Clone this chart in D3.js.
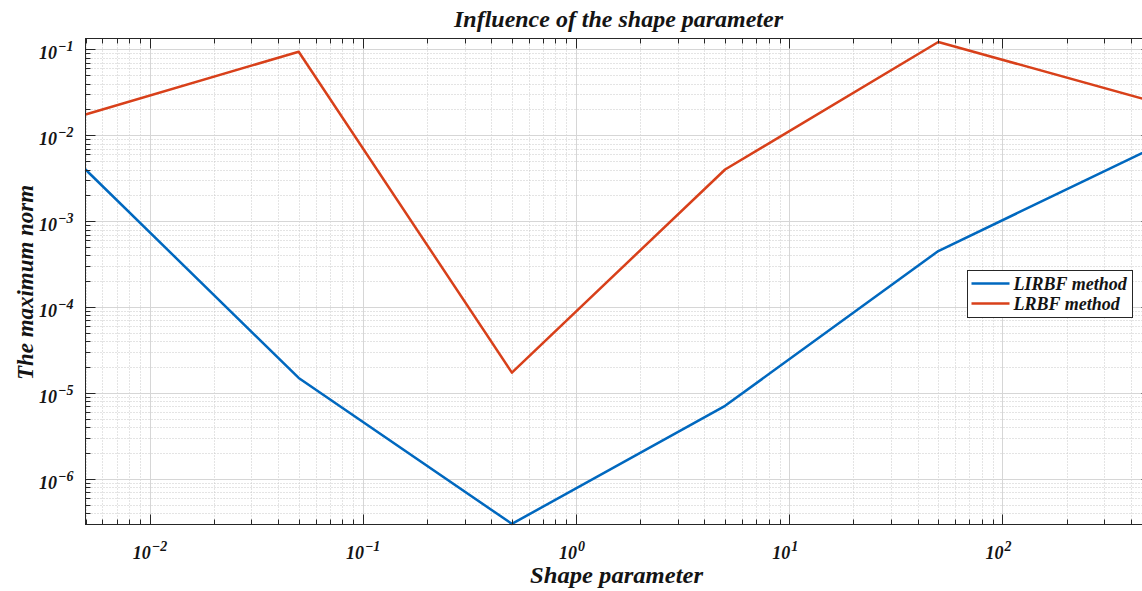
<!DOCTYPE html>
<html><head><meta charset="utf-8">
<script src="https://cdn.jsdelivr.net/npm/d3@7"></script>
<style>body{margin:0;background:#fff;overflow:hidden} svg{display:block}</style>
</head><body>
<svg id="chart" width="1142" height="591"></svg>
<script>
// Shape parameter values and maximum-norm errors for both methods
const shapeParams = [0.005, 0.05, 0.5, 5, 50, 500];
const lirbfError  = [4.0e-3, 1.5e-5, 3.0e-7, 7.1e-6, 4.5e-4, 7.0e-3];
const lrbfError   = [1.75e-2, 9.4e-2, 1.73e-5, 4.0e-3, 1.22e-1, 2.5e-2];
const seriesNames  = ["LIRBF method", "LRBF method"];
const seriesColors = ["#0068BF", "#D8401A"];
const xTickExponents = [-2, -1, 0, 1, 2];
const yTickExponents = [-6, -5, -4, -3, -2, -1];
const xLimits = [0.005, 500];
const yLimits = [2.95e-7, 0.134];
const titleText = "Influence of the shape parameter";
const xLabelText = "Shape parameter";
const yLabelText = "The maximum norm";

const FONT = "'Liberation Serif', serif";
const plot = {left: 85.5, right: 1151.5, top: 38.5, bottom: 524.5};

const svg = d3.select("#chart");
const x = d3.scaleLog().domain(xLimits).range([plot.left, plot.right]);
const y = d3.scaleLog().domain(yLimits).range([plot.bottom, plot.top]);

// minor tick values k*10^n within limits
function minorValues(lim) {
  const out = [];
  for (let e = Math.floor(Math.log10(lim[0])); e <= Math.ceil(Math.log10(lim[1])); e++) {
    for (let k = 2; k <= 9; k++) {
      const v = k * Math.pow(10, e);
      if (v >= lim[0] * 0.9999 && v <= lim[1] * 1.0001) out.push(v);
    }
  }
  return out;
}
const xMajor = xTickExponents.map(e => Math.pow(10, e));
const yMajor = yTickExponents.map(e => Math.pow(10, e));
const xMinor = minorValues(xLimits);
const yMinor = minorValues(yLimits);

const g = svg.append("g");

// grid: minor dotted, major solid
const grid = g.append("g");
grid.selectAll(".xmin").data(xMinor).join("line")
  .attr("x1", d => Math.round(x(d)) + 0.5).attr("x2", d => Math.round(x(d)) + 0.5)
  .attr("y1", plot.top).attr("y2", plot.bottom)
  .attr("stroke", "#c8c8c8").attr("stroke-width", 1).attr("stroke-dasharray", "1,2");
grid.selectAll(".ymin").data(yMinor).join("line")
  .attr("y1", d => Math.round(y(d)) + 0.5).attr("y2", d => Math.round(y(d)) + 0.5)
  .attr("x1", plot.left).attr("x2", plot.right)
  .attr("stroke", "#c8c8c8").attr("stroke-width", 1).attr("stroke-dasharray", "1,2");
grid.selectAll(".xmaj").data(xMajor).join("line")
  .attr("x1", d => Math.round(x(d)) + 0.5).attr("x2", d => Math.round(x(d)) + 0.5)
  .attr("y1", plot.top).attr("y2", plot.bottom)
  .attr("stroke", "#d6d6d6").attr("stroke-width", 1);
grid.selectAll(".ymaj").data(yMajor).join("line")
  .attr("y1", d => Math.round(y(d)) + 0.5).attr("y2", d => Math.round(y(d)) + 0.5)
  .attr("x1", plot.left).attr("x2", plot.right)
  .attr("stroke", "#d6d6d6").attr("stroke-width", 1);

// series lines
const line = d3.line().x(d => x(d[0])).y(d => y(d[1]));
const series = [lirbfError, lrbfError];
svg.append("clipPath").attr("id", "plotclip").append("rect")
  .attr("x", plot.left - 2).attr("y", plot.top - 2)
  .attr("width", plot.right - plot.left + 4).attr("height", plot.bottom - plot.top + 4);
g.append("g").attr("clip-path", "url(#plotclip)")
  .selectAll("path").data(series).join("path")
  .attr("d", s => line(shapeParams.map((p, i) => [p, s[i]])))
  .attr("fill", "none")
  .attr("stroke", (s, i) => seriesColors[i])
  .attr("stroke-width", 2.5)
  .attr("stroke-linejoin", "round");

// box with inward ticks on all four sides
const axisColor = "#262626";
const box = g.append("g").attr("stroke", axisColor).attr("stroke-width", 1);
box.append("rect").attr("x", plot.left).attr("y", plot.top)
  .attr("width", plot.right - plot.left).attr("height", plot.bottom - plot.top)
  .attr("fill", "none");
const MAJ = 10, MIN = 5;
function xTicks(vals, len) {
  vals.forEach(v => {
    const px = Math.round(x(v)) + 0.5;
    box.append("line").attr("x1", px).attr("x2", px).attr("y1", plot.bottom).attr("y2", plot.bottom - len);
    box.append("line").attr("x1", px).attr("x2", px).attr("y1", plot.top).attr("y2", plot.top + len);
  });
}
function yTicks(vals, len) {
  vals.forEach(v => {
    const py = Math.round(y(v)) + 0.5;
    box.append("line").attr("y1", py).attr("y2", py).attr("x1", plot.left).attr("x2", plot.left + len);
    box.append("line").attr("y1", py).attr("y2", py).attr("x1", plot.right).attr("x2", plot.right - len);
  });
}
xTicks(xMajor, MAJ); xTicks(xMinor, MIN);
yTicks(yMajor, MAJ); yTicks(yMinor, MIN);

// tick labels: 10 with superscript exponent
const fmtExp = e => String(e).replace("-", "\u2212");
function powerLabel(sel, e) {
  sel.append("tspan").text("10");
  sel.append("tspan").attr("dx", 1).attr("dy", -8).attr("font-size", 14).text(fmtExp(e));
}
const labelStyle = s => s.attr("font-family", FONT).attr("font-weight", "bold")
  .attr("font-style", "italic").attr("fill", "#141414");

xTickExponents.forEach(e => {
  const t = svg.append("text").attr("x", x(Math.pow(10, e)) - 17).attr("y", 559)
    .attr("font-size", 18);
  labelStyle(t); powerLabel(t, e);
});
yTickExponents.forEach(e => {
  const t = svg.append("text").attr("x", 39).attr("y", y(Math.pow(10, e)) + 10)
    .attr("font-size", 18);
  labelStyle(t); powerLabel(t, e);
});

// titles
function fitted(t, len) { return t.attr("textLength", len).attr("lengthAdjust", "spacingAndGlyphs"); }
fitted(labelStyle(svg.append("text").attr("x", (plot.left + plot.right) / 2).attr("y", 27)
  .attr("text-anchor", "middle").attr("font-size", 23).text(titleText)), 329);
fitted(labelStyle(svg.append("text").attr("x", (plot.left + plot.right) / 2 - 2).attr("y", 583)
  .attr("text-anchor", "middle").attr("font-size", 23).text(xLabelText)), 173);
fitted(labelStyle(svg.append("text")
  .attr("transform", `translate(33,${(plot.top + plot.bottom) / 2 + 1}) rotate(-90)`)
  .attr("text-anchor", "middle").attr("font-size", 23).text(yLabelText)), 195);

// legend
const lg = svg.append("g").attr("transform", "translate(967.5,270.5)");
lg.append("rect").attr("width", 165).attr("height", 47)
  .attr("fill", "#fff").attr("stroke", axisColor).attr("stroke-width", 1);
seriesNames.forEach((n, i) => {
  const yy = 13 + i * 20;
  lg.append("line").attr("x1", 4).attr("x2", 42).attr("y1", yy).attr("y2", yy)
    .attr("stroke", seriesColors[i]).attr("stroke-width", 2.5);
  labelStyle(lg.append("text").attr("x", 46).attr("y", yy + 6)
    .attr("font-size", 18).text(n));
});
</script>
</body></html>
